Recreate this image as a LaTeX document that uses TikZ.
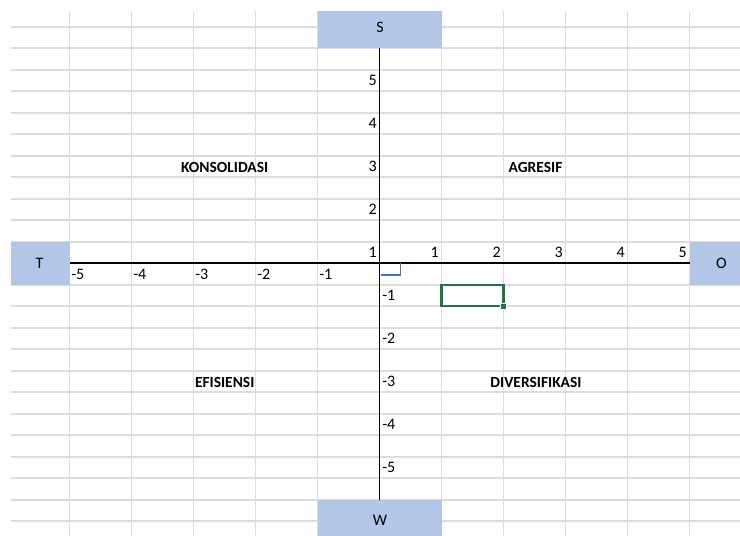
\documentclass[tikz,border=0pt]{standalone}
\usepackage{fontspec}
\setmainfont{Carlito}
\usetikzlibrary{positioning}
\definecolor{cellblue}{RGB}{180,198,231}
\definecolor{gridgray}{RGB}{220,220,220}
\definecolor{selgreen}{RGB}{33,115,70}
\definecolor{markblue}{RGB}{68,114,196}
\tikzset{
  head cell/.style={fill=cellblue,draw=none},
  head text/.style={inner sep=0pt,font=\fontsize{12}{14}\selectfont},
  grid line/.style={gridgray,line width=1.3pt},
  axis line/.style={black,line width=1.1pt},
  tick label/.style={inner sep=0pt,font=\fontsize{12}{14}\selectfont},
  quad label/.style={inner sep=0pt,font=\bfseries\fontsize{11.6}{14}\selectfont},
  sel box/.style={draw=selgreen,line width=1.6pt},
}

\begin{document}
\begin{tikzpicture}[x=0.75pt,y=-0.75pt]
  \useasboundingbox (0,0) rectangle (740,536);
  % sheet grid
  \foreach \k in {0,...,23}
    \draw[grid line] (11,26.7+21.5*\k) -- (740,26.7+21.5*\k);
  \foreach \j in {0,...,10}
    \draw[grid line] (69.5+62*\j,11) -- (69.5+62*\j,536);
  % blue end cells
  \fill[head cell] (317.5,11) rectangle (441.5,48.2);
  \fill[head cell] (317.5,499.7) rectangle (441.5,536);
  \fill[head cell] (11,241.7) rectangle (69.5,284.7);
  \fill[head cell] (689.5,241.7) rectangle (740,284.7);
  \node[head text] (S) at (380,27) {S};
  \node[head text] (W) at (380,520) {W};
  \node[head text] (T) at (39.5,263.5) {T};
  \node[head text] (O) at (721.5,263.5) {O};
  % axes
  \coordinate (xl) at (69.5,263);
  \coordinate (xr) at (689.5,263);
  \coordinate (yt) at (379.5,48.2);
  \coordinate (yb) at (379.5,499.7);
  \draw[axis line] (xl) -- (xr);
  \draw[axis line] (yt) -- (yb);
  % tick labels
  \foreach \n in {1,...,5} {
    \node[tick label,anchor=east] (xp\n) at (379.5+62*\n-2.5,252) {\n};
    \node[tick label,anchor=west] (xn\n) at (379.5-62*\n+1.5,274.5) {-\n};
    \node[tick label,anchor=east] (yp\n) at (377,26.7+21.5*12-43*\n+10.75) {\n};
    \node[tick label,anchor=west] (yn\n) at (382,26.7+21.5*10+43*\n+10.75) {-\n};
  }
  % quadrants
  \node[quad label] (kons) at (224.7,167.5) {KONSOLIDASI};
  \node[quad label] (agr) at (535.5,167.5) {AGRESIF};
  \node[quad label] (efi) at (224.7,382.5) {EFISIENSI};
  \node[quad label] (div) at (536,382.5) {DIVERSIFIKASI};
  % marks near the origin
  \draw[markblue,line width=0.8pt] (381,275) -- (400.5,275) -- (400.5,263);
  \draw[sel box] (441.5,284.7) rectangle (503.5,306.2);
  \fill[selgreen,draw=white,line width=0.5pt] (500.5,303.2) rectangle (506.5,309.2);
\end{tikzpicture}
\end{document}
